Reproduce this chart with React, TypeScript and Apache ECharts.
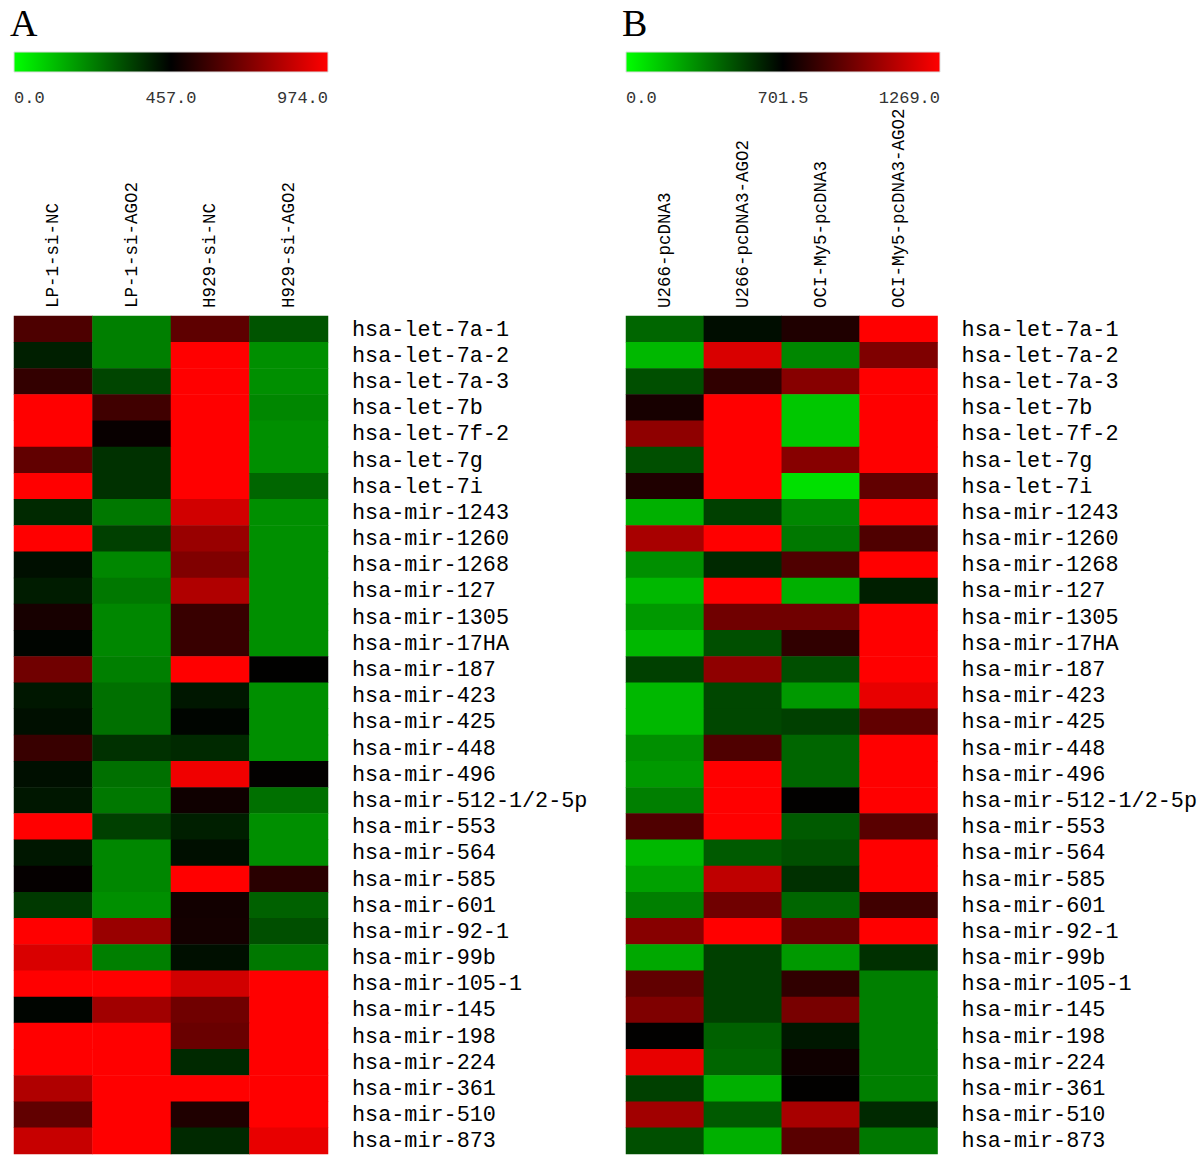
import React, { useEffect, useRef } from "react";
import * as echarts from "echarts";

const mirnas = [
  "hsa-let-7a-1", "hsa-let-7a-2", "hsa-let-7a-3", "hsa-let-7b", "hsa-let-7f-2",
  "hsa-let-7g", "hsa-let-7i", "hsa-mir-1243", "hsa-mir-1260", "hsa-mir-1268",
  "hsa-mir-127", "hsa-mir-1305", "hsa-mir-17HA", "hsa-mir-187", "hsa-mir-423",
  "hsa-mir-425", "hsa-mir-448", "hsa-mir-496", "hsa-mir-512-1/2-5p", "hsa-mir-553",
  "hsa-mir-564", "hsa-mir-585", "hsa-mir-601", "hsa-mir-92-1", "hsa-mir-99b",
  "hsa-mir-105-1", "hsa-mir-145", "hsa-mir-198", "hsa-mir-224", "hsa-mir-361",
  "hsa-mir-510", "hsa-mir-873",
];

const samplesA = ["LP-1-si-NC", "LP-1-si-AGO2", "H929-si-NC", "H929-si-AGO2"];
const samplesB = ["U266-pcDNA3", "U266-pcDNA3-AGO2", "OCI-My5-pcDNA3", "OCI-My5-pcDNA3-AGO2"];

// rows follow mirnas, columns follow samples
const valuesA = [
  [612, 229, 648, 306],
  [402, 229, 974, 201],
  [560, 334, 974, 201],
  [974, 586, 974, 215],
  [974, 473, 974, 201],
  [653, 370, 974, 201],
  [974, 370, 974, 274],
  [384, 242, 881, 201],
  [974, 343, 767, 201],
  [430, 215, 716, 201],
  [407, 242, 814, 201],
  [504, 215, 571, 201],
  [448, 215, 571, 201],
  [684, 229, 974, 457],
  [416, 256, 416, 201],
  [430, 256, 448, 201],
  [571, 370, 384, 201],
  [430, 256, 943, 462],
  [416, 242, 488, 256],
  [974, 343, 402, 201],
  [416, 215, 430, 201],
  [467, 215, 974, 540],
  [356, 201, 493, 283],
  [974, 767, 498, 315],
  [896, 229, 430, 242],
  [974, 974, 881, 974],
  [448, 783, 684, 974],
  [974, 974, 669, 974],
  [974, 974, 384, 974],
  [814, 974, 974, 974],
  [653, 974, 519, 974],
  [860, 974, 384, 927],
];

const valuesB = [
  [421, 666, 770, 1269],
  [196, 1184, 330, 985],
  [484, 809, 1002, 1269],
  [753, 1269, 154, 1269],
  [1019, 1269, 154, 1269],
  [484, 1269, 1002, 1269],
  [770, 1269, 84, 917],
  [217, 526, 330, 1269],
  [1076, 1269, 372, 877],
  [309, 589, 877, 1269],
  [196, 1269, 217, 617],
  [281, 951, 951, 1269],
  [196, 484, 809, 1269],
  [526, 1019, 484, 1269],
  [196, 505, 281, 1218],
  [196, 505, 526, 917],
  [309, 877, 421, 1269],
  [281, 1269, 421, 1269],
  [351, 1269, 702, 1269],
  [877, 1269, 456, 900],
  [196, 456, 484, 1269],
  [260, 1127, 568, 1269],
  [351, 951, 421, 843],
  [1002, 1269, 934, 1269],
  [239, 526, 281, 568],
  [917, 526, 809, 351],
  [985, 526, 968, 351],
  [702, 435, 638, 351],
  [1218, 421, 736, 351],
  [526, 217, 702, 351],
  [1059, 456, 1076, 589],
  [484, 217, 900, 372],
];

const scaleTicksA = [0, 457, 974];
const scaleTicksB = [0, 701.5, 1269];

const MONO = "'Liberation Mono', 'DejaVu Sans Mono', monospace";
const SERIF = "'Liberation Serif', 'DejaVu Serif', serif";

function colorStops(ticks: number[], n: number): string[] {
  const [lo, mid, hi] = ticks;
  const out: string[] = [];
  for (let i = 0; i < n; i++) {
    const v = lo + ((hi - lo) * i) / (n - 1);
    let r = 0;
    let g = 0;
    if (v <= mid) {
      g = Math.round(255 * (1 - (v - lo) / (mid - lo)));
    } else {
      r = Math.round(255 * ((v - mid) / (hi - mid)));
    }
    out.push(`rgb(${r},${g},0)`);
  }
  return out;
}

function toCells(values: number[][]) {
  const cells: number[][] = [];
  values.forEach((row, y) => row.forEach((v, x) => cells.push([x, y, v])));
  return cells;
}

const GRID_TOP = 316;
const GRID_H = 838;
const GRID_W = 314;
const LEFT_A = 14;
const LEFT_B = 626;

function colorbar(left: number, ticks: number[], letter: string) {
  const els: any[] = [
    {
      type: "text",
      left: left - 4,
      top: 4,
      style: { text: letter, font: `38px ${SERIF}`, fill: "#000" },
    },
    {
      type: "rect",
      shape: { x: left, y: 52, width: GRID_W, height: 20 },
      style: {
        fill: new echarts.graphic.LinearGradient(0, 0, 1, 0, [
          { offset: 0, color: "#00ff00" },
          { offset: 0.5, color: "#000000" },
          { offset: 1, color: "#ff0000" },
        ]),
        stroke: "#dddddd",
        lineWidth: 1,
      },
    },
  ];
  const aligns = ["left", "center", "right"];
  const xs = [left, left + GRID_W / 2, left + GRID_W];
  ticks.forEach((t, i) => {
    els.push({
      type: "text",
      x: xs[i],
      y: 98,
      style: {
        text: t.toFixed(1),
        font: `17px ${MONO}`,
        fill: "#333",
        align: aligns[i],
        verticalAlign: "middle",
      },
    });
  });
  return els;
}

export default function App() {
  const ref = useRef<HTMLDivElement>(null);
  useEffect(() => {
    document.body.style.margin = "0";
    const chart = echarts.init(ref.current!, undefined, { renderer: "svg" });
    const xAxisCommon = {
      type: "category" as const,
      position: "top" as const,
      axisLine: { show: false },
      axisTick: { show: false },
      splitArea: { show: false },
      axisLabel: {
        rotate: -90,
        margin: 8,
        interval: 0,
        fontFamily: MONO,
        fontSize: 17.5,
        color: "#000",
      },
    };
    const yAxisCommon = {
      type: "category" as const,
      position: "right" as const,
      inverse: true,
      data: mirnas,
      axisLine: { show: false },
      axisTick: { show: false },
      splitArea: { show: false },
      axisLabel: {
        margin: 24,
        interval: 0,
        fontFamily: MONO,
        fontSize: 21.8,
        color: "#000",
        align: "left" as const,
        verticalAlign: "top" as const,
        lineHeight: 2,
      },
    };
    chart.setOption({
      animation: false,
      backgroundColor: "#fff",
      grid: [
        { left: LEFT_A, top: GRID_TOP, width: GRID_W, height: GRID_H },
        { left: LEFT_B, top: GRID_TOP, width: GRID_W, height: GRID_H },
      ],
      xAxis: [
        { ...xAxisCommon, gridIndex: 0, data: samplesA },
        { ...xAxisCommon, gridIndex: 1, data: samplesB },
      ],
      yAxis: [
        { ...yAxisCommon, gridIndex: 0 },
        { ...yAxisCommon, gridIndex: 1 },
      ],
      visualMap: [
        {
          type: "continuous",
          show: false,
          seriesIndex: 0,
          min: scaleTicksA[0],
          max: scaleTicksA[2],
          inRange: { color: colorStops(scaleTicksA, 61) },
        },
        {
          type: "continuous",
          show: false,
          seriesIndex: 1,
          min: scaleTicksB[0],
          max: scaleTicksB[2],
          inRange: { color: colorStops(scaleTicksB, 61) },
        },
      ],
      series: [
        {
          type: "heatmap",
          xAxisIndex: 0,
          yAxisIndex: 0,
          data: toCells(valuesA),
          itemStyle: { borderWidth: 0 },
          emphasis: { disabled: true },
        },
        {
          type: "heatmap",
          xAxisIndex: 1,
          yAxisIndex: 1,
          data: toCells(valuesB),
          itemStyle: { borderWidth: 0 },
          emphasis: { disabled: true },
        },
      ],
      graphic: [...colorbar(LEFT_A, scaleTicksA, "A"), ...colorbar(LEFT_B, scaleTicksB, "B")],
    });
    return () => chart.dispose();
  }, []);
  return <div ref={ref} style={{ width: 1200, height: 1155 }} />;
}
